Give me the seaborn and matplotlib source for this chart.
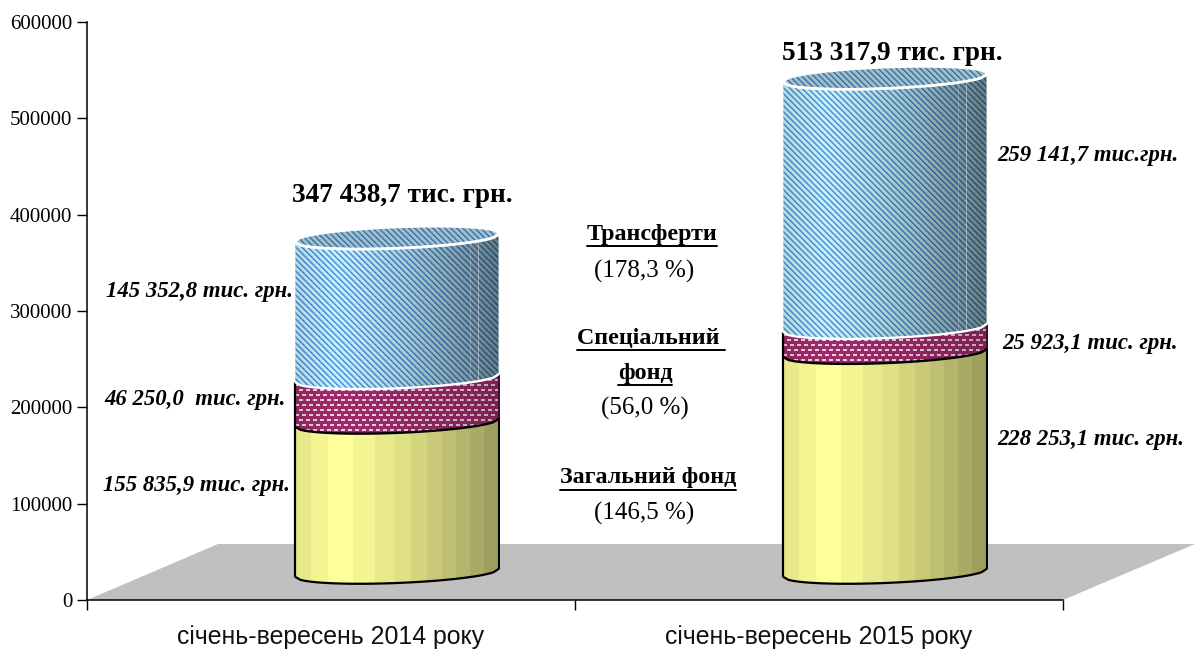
import numpy as np
import matplotlib
matplotlib.use("Agg")
import matplotlib.pyplot as plt
import seaborn as sns
from matplotlib.lines import Line2D
from matplotlib.path import Path
from matplotlib.patches import Polygon

categories = ['січень-вересень 2014 року', 'січень-вересень 2015 року']
general_fund = [155835.9, 228253.1]
special_fund = [46250.0, 25923.1]
transfers = [145352.8, 259141.7]
y_ticks = [0, 100000, 200000, 300000, 400000, 500000, 600000]
total_labels = ['347 438,7 тис. грн.', '513 317,9 тис. грн.']

sns.set_theme(style='white')
plt.rcParams['font.family'] = ['Liberation Serif', 'DejaVu Sans']

W, H = 1198, 649
L, B, AW, AH = 87, 49, 976, 578
SHIFT_X, SHIFT_Y = 66, 23
PX = 600000 / AH

fig = plt.figure(figsize=(W / 100, H / 100), dpi=100)
ax = fig.add_axes([L / W, B / H, AW / W, AH / H])
ax3d = fig.add_axes([(L + SHIFT_X) / W, (B + SHIFT_Y) / H, AW / W, AH / H])
ax3d.patch.set_visible(False)


def fx(x):
    return x / W


def fy(y):
    return 1 - y / H


# floor
floor = Polygon([(fx(87), fy(600)), (fx(218), fy(544)), (fx(1195), fy(544)), (fx(1063), fy(600))],
                closed=True, transform=fig.transFigure, facecolor='#c0c0c0', edgecolor='none', zorder=0)
fig.add_artist(floor)
ax.patch.set_visible(False)

ax.set_xlim(-0.5, 1.5)
ax.set_ylim(0, 600000)
ax.set_xticks([-0.5, 0.5, 1.5])
ax.set_xticklabels([])
ax.set_xticks([0, 1], minor=True)
ax.set_xticklabels(categories, minor=True, fontsize=17.9, family='Liberation Sans', color='#111111')
ax.tick_params(axis='x', which='minor', length=0, pad=18)
ax.tick_params(axis='x', which='major', length=7, width=1, color='black', bottom=True)
ax.set_yticks(y_ticks)
ax.set_yticklabels([str(v) for v in y_ticks], fontsize=15, color='black')
ax.tick_params(axis='y', length=7, width=1, color='black', left=True, pad=3.5)
sns.despine(ax=ax)
for s in ['left', 'bottom']:
    ax.spines[s].set_color('black')
    ax.spines[s].set_linewidth(1.1)

# stacked bars
bottoms = np.zeros(2)
for values, colour in [(general_fund, '#e6e68c'), (special_fund, '#8c2a60'), (transfers, '#a5d8e6')]:
    sns.barplot(x=categories, y=values, bottom=bottoms, color=colour, saturation=1,
                width=0.416, errorbar=None, linewidth=0, ax=ax3d)
    bottoms = bottoms + np.array(values)
ax3d.set_xlim(-0.5, 1.5)
ax3d.set_ylim(0, 600000)
ax3d.axis('off')


def shade(n, low=0.56):
    u = np.linspace(0, 1, n)
    s = np.where(u < 0.2, 0.9 + 0.1 * u / 0.2, 1 - (1 - low) * ((u - 0.2) / 0.8) ** 1.3)
    return s


def tex_yellow(w, h):
    s = shade(w, 0.6)
    s = np.round(s * 24) / 24
    c = np.array([1.0, 1.0, 0.6])
    img = np.ones((h, w, 3)) * c
    return img * s[None, :, None]


def tex_magenta(w, h):
    s = shade(w, 0.78)
    yy, xx = np.mgrid[0:h, 0:w]
    base = np.array([0.62, 0.17, 0.41])
    dot = np.array([0.95, 0.82, 0.9])
    row = yy // 5
    on = ((yy % 5) < 2) & (((xx + 3 * (row % 2)) % 7) < 4)
    img = np.where(on[..., None], dot, base)
    return img * s[None, :, None]


def tex_blue(w, h, flat=False):
    s = np.full(w, 0.8) if flat else shade(w, 0.52)
    yy, xx = np.mgrid[0:h, 0:w]
    phase = (xx - yy) % 6
    light = np.array([0.76, 0.96, 0.98])
    dark = np.array([0.38, 0.58, 0.88])
    img = np.where((phase < 2)[..., None], dark, light)
    img = np.where((phase == 2)[..., None], dark * 0.3 + light * 0.7, img)
    img = img * s[None, :, None]
    if not flat:
        img[:, int(w * 0.9)] = img[:, int(w * 0.9)] * 0.6 + 0.4
        img[:, int(w * 0.86)] = img[:, int(w * 0.86)] * 0.8 + 0.2
    return img


RY = 10 * PX
TILT = 8 * PX


def front(x0, w, y):
    u = np.linspace(-1, 1, 41)
    return x0 + (u + 1) / 2 * w, y + TILT * (u + 1) / 2 - RY * np.sqrt(1 - u ** 2)


def back(x0, w, y):
    u = np.linspace(1, -1, 41)
    return x0 + (u + 1) / 2 * w, y + TILT * (u + 1) / 2 + RY * np.sqrt(1 - u ** 2)


textures = [tex_yellow, tex_magenta, tex_blue]
edge_colours = ['black', 'white', 'white']
for seg, container in enumerate(ax3d.containers):
    for bar in container:
        x0, w = bar.get_x(), bar.get_width()
        y0, y1 = bar.get_y(), bar.get_y() + bar.get_height()
        xa, ya = front(x0, w, y0)
        xb, yb = front(x0, w, y1)
        verts = np.r_[np.c_[xa, ya], np.c_[xb[::-1], yb[::-1]], [[xa[0], ya[0]]]]
        clip = Path(verts)
        bar.set_clip_path(clip, ax3d.transData)
        low = y0 - RY
        pw = int(np.ceil(w * AW / 2))
        ph = int(np.ceil((y1 + TILT + RY - low) / PX))
        # one texture pixel per figure pixel, so the stripes stay even
        extent = (x0, x0 + pw * 2 / AW, low, low + ph * PX)
        im = ax3d.imshow(textures[seg](pw, ph), extent=extent, aspect='auto',
                         interpolation='nearest', zorder=3)
        im.set_clip_box(fig.bbox)
        im.set_clip_path(clip, ax3d.transData)
        if seg == 0:
            ax3d.plot(xa, ya, color='black', lw=1.6, zorder=5, clip_on=False)
        if seg < 2:
            ax3d.plot([x0, x0], [y0, y1], color='black', lw=1.6, zorder=5, solid_capstyle='butt', clip_on=False)
            ax3d.plot([x0 + w, x0 + w], [y0 + TILT, y1 + TILT], color='black' if seg == 0 else '#3a1028',
                      lw=1.4, zorder=5, solid_capstyle='butt', clip_on=False)
        ax3d.plot(xb, yb, color=edge_colours[seg], lw=1.7, zorder=6)
        if seg == 2:
            xc, yc = back(x0, w, y1)
            cap = Path(np.r_[np.c_[xb, yb], np.c_[xc, yc]])
            ci = ax3d.imshow(tex_blue(pw, ph, flat=True), extent=extent, aspect='auto',
                             interpolation='nearest', zorder=4)
            ci.set_clip_path(cap, ax3d.transData)
            ax3d.plot(xb, yb, color='white', lw=1.9, zorder=6)
ax3d.set_xlim(-0.5, 1.5)
ax3d.set_ylim(0, 600000)

# captions
ser = 'Liberation Serif'
for label, x, y in zip(total_labels, [402, 892], [196, 53]):
    fig.text(fx(x), fy(y), label, ha='center', va='center', fontsize=19.6, fontweight='bold', family=ser, color='black')

side_labels = [('145 352,8 тис. грн.', 200, 291), ('46 250,0  тис. грн.', 195.5, 399),
               ('155 835,9 тис. грн.', 196, 486), ('259 141,7 тис.грн.', 1088, 155),
               ('25 923,1 тис. грн.', 1090, 343), ('228 253,1 тис. грн.', 1090.5, 440)]
for label, x, y in side_labels:
    fig.text(fx(x), fy(y), label, ha='center', va='center', fontsize=16.4, fontweight='bold',
             fontstyle='italic', family=ser, color='black')

under_labels = [('Трансферти', 652, 234), ('Спеціальний ', 651, 338), ('фонд', 645, 373), ('Загальний фонд', 648, 478)]
renderer = fig.canvas.get_renderer()
for label, x, y in under_labels:
    t = fig.text(fx(x), fy(y), label, ha='center', va='center', fontsize=17.3, fontweight='bold', family=ser, color='black')
    bb = t.get_window_extent(renderer)
    yl = fy(y + 12)
    fig.add_artist(Line2D([bb.x0 / W, bb.x1 / W], [yl, yl], color='black', lw=1.4))

for label, x, y in [('(178,3 %)', 644, 271), ('(56,0 %)', 645, 408), ('(146,5 %)', 644, 513)]:
    fig.text(fx(x), fy(y), label, ha='center', va='center', fontsize=18, family=ser, color='black')

fig.savefig('out.png', dpi=100)
